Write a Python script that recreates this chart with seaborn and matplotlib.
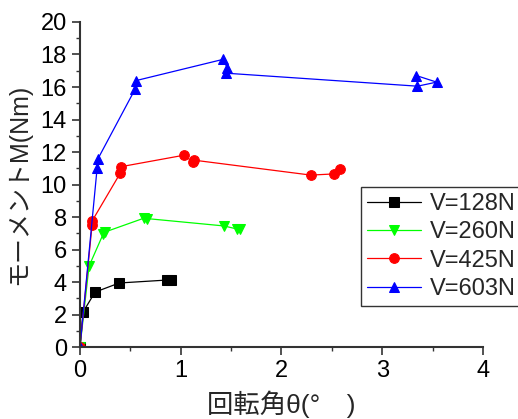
import matplotlib
matplotlib.use("Agg")
import matplotlib.pyplot as plt
from matplotlib.ticker import MultipleLocator
import seaborn as sns

sns.set_style("ticks")
plt.rcParams["font.family"] = ["Liberation Sans", "Noto Sans CJK JP", "DejaVu Sans"]

# Rotation angle (deg) and moment (Nm) for each vertical load
theta_128 = [0.0, 0.03, 0.15, 0.39, 0.86, 0.90]
moment_128 = [0.0, 2.15, 3.38, 3.94, 4.12, 4.12]

theta_260 = [0.0, 0.09, 0.23, 0.25, 0.64, 0.67, 1.43, 1.56, 1.59]
moment_260 = [0.0, 4.98, 6.95, 7.08, 7.94, 7.90, 7.45, 7.26, 7.26]

theta_425 = [0.0, 0.12, 0.12, 0.40, 0.41, 1.03, 1.12, 1.13, 2.29, 2.52, 2.58]
moment_425 = [0.0, 7.50, 7.75, 10.70, 11.10, 11.80, 11.40, 11.50, 10.58, 10.65, 10.95]

theta_603 = [0.0, 0.17, 0.18, 0.55, 0.56, 1.42, 1.46, 1.45, 3.35, 3.54, 3.34]
moment_603 = [0.0, 11.00, 11.60, 15.90, 16.40, 17.70, 17.20, 16.85, 16.05, 16.30, 16.70]

labels = ["V=128N", "V=260N", "V=425N", "V=603N"]
colors = ["#000000", "#00ff00", "#ff0000", "#0000ff"]
markers = ["s", "v", "o", "^"]

fig = plt.figure(figsize=(5.18, 4.19), dpi=100)
ax = fig.add_axes([0.1544, 0.1718, 0.778, 0.7757])

series = [(theta_128, moment_128), (theta_260, moment_260),
          (theta_425, moment_425), (theta_603, moment_603)]
for (xs, ys), lab, c, m in zip(series, labels, colors, markers):
    sns.lineplot(x=xs, y=ys, ax=ax, sort=False, estimator=None, color=c,
                 marker=m, markersize=7, markeredgecolor=c, linewidth=0.9,
                 label=lab)

ax.set_xlim(0, 4)
ax.set_ylim(0, 20)
ax.xaxis.set_major_locator(MultipleLocator(1))
ax.xaxis.set_minor_locator(MultipleLocator(0.5))
ax.yaxis.set_major_locator(MultipleLocator(2))
ax.yaxis.set_minor_locator(MultipleLocator(1))
ax.tick_params(which="major", direction="out", length=6, width=1.2,
               labelsize=17, colors="#333333", labelcolor="black")
ax.tick_params(which="minor", direction="out", length=3, width=1.0,
               colors="#333333")
for s in ["top", "right"]:
    ax.spines[s].set_visible(False)
for s in ["left", "bottom"]:
    ax.spines[s].set_linewidth(1.5)
    ax.spines[s].set_color("#333333")

ax.set_xlabel("回転角θ(°\u3000)", fontsize=19, labelpad=6)
ax.set_ylabel("モーメントM(Nm)", fontsize=18, labelpad=7)

leg = ax.legend(loc="upper left", bbox_to_anchor=(0.697, 0.492),
                borderaxespad=0, fontsize=17, frameon=True, fancybox=False,
                handlelength=2.3, handletextpad=0.36, labelspacing=0.27,
                borderpad=0.25)
leg.get_frame().set_edgecolor("black")
leg.get_frame().set_linewidth(1.0)

fig.savefig("out.png", dpi=100)
